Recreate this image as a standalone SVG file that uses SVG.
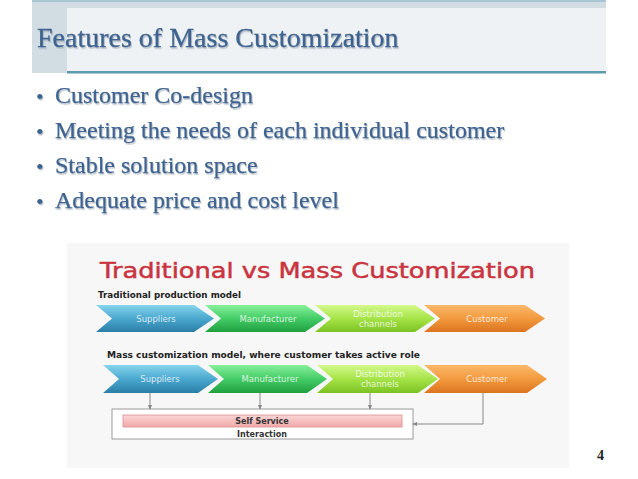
<svg xmlns="http://www.w3.org/2000/svg" width="638" height="479" viewBox="0 0 638 479">
<defs>
<linearGradient id="gBlue" x1="0" y1="0" x2="0" y2="1"><stop offset="0" stop-color="#86d4ec"/><stop offset="0.5" stop-color="#4aa8cf"/><stop offset="1" stop-color="#2a7ea6"/></linearGradient>
<linearGradient id="gGreen" x1="0" y1="0" x2="0" y2="1"><stop offset="0" stop-color="#86f09a"/><stop offset="0.5" stop-color="#44cc66"/><stop offset="1" stop-color="#1fa040"/></linearGradient>
<linearGradient id="gLime" x1="0" y1="0" x2="0" y2="1"><stop offset="0" stop-color="#d4f98c"/><stop offset="0.5" stop-color="#a6e448"/><stop offset="1" stop-color="#7cc222"/></linearGradient>
<linearGradient id="gOrange" x1="0" y1="0" x2="0" y2="1"><stop offset="0" stop-color="#fbb86a"/><stop offset="0.5" stop-color="#f29a3e"/><stop offset="1" stop-color="#dc7420"/></linearGradient>
<linearGradient id="gPink" x1="0" y1="0" x2="0" y2="1"><stop offset="0" stop-color="#fbd6d6"/><stop offset="1" stop-color="#f2a8a8"/></linearGradient>
<filter id="sh" x="-5%" y="-20%" width="110%" height="150%"><feDropShadow dx="1" dy="1.5" stdDeviation="0.6" flood-color="#8a98a6" flood-opacity="0.6"/></filter>
<marker id="arr" viewBox="0 0 6 6" refX="5" refY="3" markerWidth="5" markerHeight="5" orient="auto"><path d="M0,0.5 L6,3 L0,5.5 Z" fill="#888"/></marker>
</defs>
<style>
.head{font-family:"Liberation Serif","Times New Roman",serif;font-size:28px;fill:#3d6391;stroke:#3d6391;stroke-width:0.3}
.bul{font-family:"Liberation Serif","Times New Roman",serif;font-size:24px;fill:#3d6391;stroke:#3d6391;stroke-width:0.25}
.dot{font-family:"Liberation Serif","Times New Roman",serif;font-size:22px;fill:#3d6391}
.ptitle{font-family:"DejaVu Sans",sans-serif;font-size:21px;fill:#c9343f;stroke:#c9343f;stroke-width:0.5}
.sub{font-family:"DejaVu Sans",sans-serif;font-size:8px;font-weight:bold;fill:#222}
.chev{font-family:"DejaVu Sans",sans-serif;font-size:8.5px;fill:#ffffff;fill-opacity:0.8;text-anchor:middle}
.box{font-family:"DejaVu Sans",sans-serif;font-size:8px;font-weight:bold;fill:#333;text-anchor:middle}
.conn{stroke:#888;stroke-width:1;fill:none}
.num{font-family:"Liberation Serif","Times New Roman",serif;font-size:14px;font-weight:bold;fill:#222}
</style>
<rect width="638" height="479" fill="#ffffff"/>
<g id="titlebar">
<rect x="32" y="0" width="574" height="73" fill="#d2dde3"/>
<rect x="32" y="0" width="574" height="2" fill="#a9c6d0"/>
<rect x="67" y="8" width="539" height="63" fill="#eff2f4"/>
<rect x="67" y="71" width="539" height="2.5" fill="#5b9bab"/>
<text class="head" x="37" y="47" filter="url(#sh)">Features of Mass Customization</text>
</g>
<g id="bullets" filter="url(#sh)">
<text class="dot" x="36" y="104">•</text><text class="bul" x="55" y="103">Customer Co-design</text>
<text class="dot" x="36" y="139">•</text><text class="bul" x="55" y="138">Meeting the needs of each individual customer</text>
<text class="dot" x="36" y="174">•</text><text class="bul" x="55" y="173">Stable solution space</text>
<text class="dot" x="36" y="209">•</text><text class="bul" x="55" y="208">Adequate price and cost level</text>
</g>
<g id="picture">
<rect x="67" y="243" width="502" height="225" fill="#f7f7f7"/>
<text class="ptitle" x="100" y="278" textLength="435" lengthAdjust="spacingAndGlyphs">Traditional vs Mass Customization</text>
<text class="sub" x="98" y="298" textLength="143" lengthAdjust="spacingAndGlyphs">Traditional production model</text>
<text class="sub" x="107" y="358" font-size="9" textLength="313" lengthAdjust="spacingAndGlyphs">Mass customization model, where customer takes active role</text>
</g>
<g id="row1">
<g id="t-suppliers"><path d="M96,305 L194,305 L214,318.5 L194,332 L96,332 L112,318.5 Z" fill="url(#gBlue)"/><text class="chev" x="156" y="322">Suppliers</text></g>
<g id="t-manufacturer"><path d="M205,305 L305,305 L325,318.5 L305,332 L205,332 L221,318.5 Z" fill="url(#gGreen)"/><text class="chev" x="268" y="322">Manufacturer</text></g>
<g id="t-distribution"><path d="M315,305 L415,305 L435,318.5 L415,332 L315,332 L331,318.5 Z" fill="url(#gLime)"/><text class="chev" x="378" y="317">Distribution</text><text class="chev" x="378" y="327">channels</text></g>
<g id="t-customer"><path d="M424,305 L525,305 L545,318.5 L525,332 L424,332 L440,318.5 Z" fill="url(#gOrange)"/><text class="chev" x="487" y="322">Customer</text></g>
</g>
<g id="row2">
<g id="m-suppliers"><path d="M103,365 L198,365 L218,379 L198,393 L103,393 L119,379 Z" fill="url(#gBlue)"/><text class="chev" x="160" y="382">Suppliers</text></g>
<g id="m-manufacturer"><path d="M208,365 L307,365 L327,379 L307,393 L208,393 L224,379 Z" fill="url(#gGreen)"/><text class="chev" x="270" y="382">Manufacturer</text></g>
<g id="m-distribution"><path d="M317,365 L418,365 L438,379 L418,393 L317,393 L333,379 Z" fill="url(#gLime)"/><text class="chev" x="380" y="377">Distribution</text><text class="chev" x="380" y="387">channels</text></g>
<g id="m-customer"><path d="M424,365 L527,365 L547,379 L527,393 L424,393 L440,379 Z" fill="url(#gOrange)"/><text class="chev" x="487" y="382">Customer</text></g>
</g>
<g id="interaction">
<rect x="112" y="409" width="301" height="30" fill="#ffffff" stroke="#9a9a9a" stroke-width="1"/>
<text class="box" x="262" y="437">Interaction</text>
</g>
<g id="selfservice">
<rect x="123" y="415" width="279" height="12" fill="url(#gPink)" stroke="#d89090" stroke-width="0.8"/>
<text class="box" x="262" y="424">Self Service</text>
</g>
<g id="connectors">
<path class="conn" d="M150,393 V409" marker-end="url(#arr)"/>
<path class="conn" d="M260,393 V409" marker-end="url(#arr)"/>
<path class="conn" d="M370,393 V409" marker-end="url(#arr)"/>
<path class="conn" d="M483,393 V424 H413" marker-end="url(#arr)"/>
</g>
<text class="num" x="597" y="460">4</text>
</svg>
